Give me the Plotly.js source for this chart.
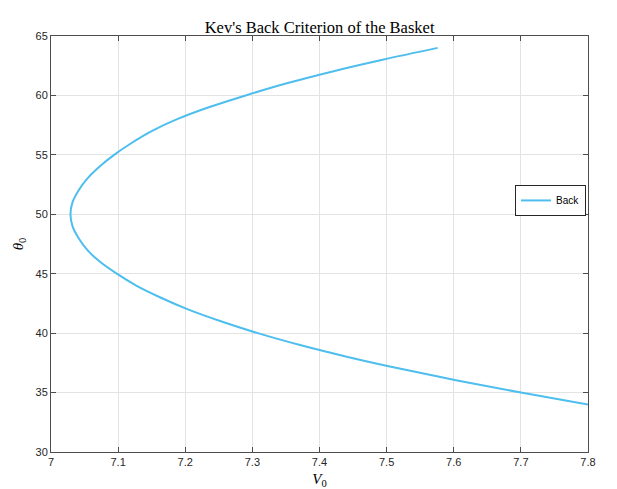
<!DOCTYPE html>
<html>
<head>
<meta charset="utf-8">
<script src="https://cdn.plot.ly/plotly-3.0.1.min.js"></script>
<style>html,body{margin:0;padding:0;background:#fff;}#chart{width:617px;height:489px;}</style>
</head>
<body>
<div id="chart"></div>
<script>
// Launch angle theta0 (deg), top branch to bottom branch
const theta0 = [64, 63, 62, 61, 60, 59, 58, 57, 56, 55, 54, 53, 52, 51, 50,
                49, 48, 47, 46, 45, 44, 43, 42, 41, 40, 39, 38, 37, 36, 35, 34];
// Required launch speed V0 at each angle
const v0 = [7.576, 7.494, 7.418, 7.350, 7.290, 7.235, 7.188, 7.150, 7.120, 7.094, 7.072, 7.054, 7.041, 7.032, 7.029,
            7.032, 7.041, 7.054, 7.073, 7.098, 7.127, 7.163, 7.204, 7.253, 7.308, 7.371, 7.442, 7.521, 7.607, 7.700, 7.800];
const seriesName = "Back";
const xTicks = [7, 7.1, 7.2, 7.3, 7.4, 7.5, 7.6, 7.7, 7.8];
const yTicks = [30, 35, 40, 45, 50, 55, 60, 65];

const axisCommon = {
  showline: true, linecolor: '#4d4d4d', linewidth: 1, mirror: 'ticks',
  ticks: 'inside', ticklen: 5, tickwidth: 1, tickcolor: '#4d4d4d',
  showgrid: true, gridcolor: '#e3e3e3', gridwidth: 1, zeroline: false,
  tickfont: {family: 'Liberation Sans, Arial, sans-serif', size: 11, color: '#262626'}
};

const trace = {
  x: v0, y: theta0, type: 'scatter', mode: 'lines', name: seriesName,
  line: {color: '#4DBEEE', width: 2, shape: 'spline', smoothing: 1}
};

const layout = {
  width: 617, height: 489,
  margin: {l: 51, r: 29, t: 36, b: 37},
  paper_bgcolor: '#ffffff', plot_bgcolor: '#ffffff',
  showlegend: true,
  title: {text: "Kev's Back Criterion of the Basket", x: 0.518, xanchor: 'center', y: 0.945, yanchor: 'middle',
          font: {family: 'Liberation Serif, Times New Roman, serif', size: 16.5, color: '#000'}},
  xaxis: Object.assign({}, axisCommon, {
    range: [7, 7.8], tickvals: xTicks, ticktext: xTicks.map(String),
    title: {text: '<i>V</i><sub>0</sub>', standoff: 7,
            font: {family: 'Liberation Serif, Times New Roman, serif', size: 15, color: '#000'}}
  }),
  yaxis: Object.assign({}, axisCommon, {
    range: [30, 65], tickvals: yTicks, ticktext: yTicks.map(String),
    title: {text: '<i>θ</i><sub>0</sub>', standoff: 8,
            font: {family: 'Liberation Serif, Times New Roman, serif', size: 15, color: '#000'}}
  }),
  legend: {x: 0.864, y: 0.642, xanchor: 'left', yanchor: 'top',
           bgcolor: '#ffffff', bordercolor: '#262626', borderwidth: 1,
           font: {family: 'Liberation Sans, Arial, sans-serif', size: 10, color: '#000'},
           itemwidth: 30, tracegroupgap: 0}
};

Plotly.newPlot('chart', [trace], layout, {displayModeBar: false, staticPlot: true});
</script>
</body>
</html>
